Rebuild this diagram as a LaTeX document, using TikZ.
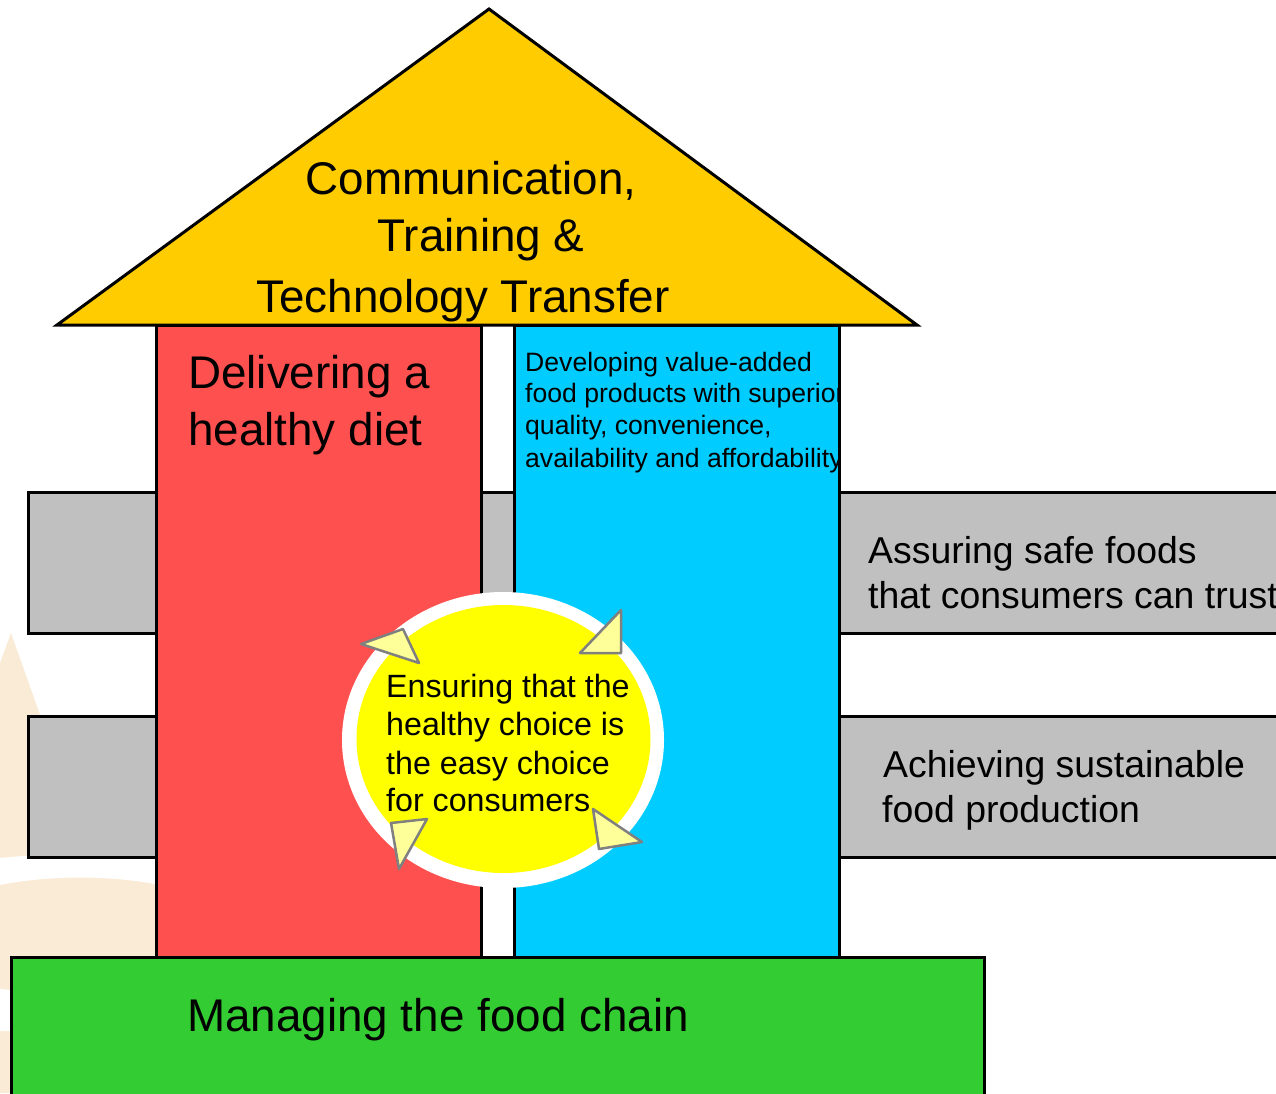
\documentclass[tikz,border=0pt]{standalone}
\usepackage{fontspec}
\setmainfont{Liberation Sans}
\definecolor{roofc}{HTML}{FFCC00}
\definecolor{redc}{HTML}{FF5050}
\definecolor{bluec}{HTML}{00CCFF}
\definecolor{grayc}{HTML}{C0C0C0}
\definecolor{greenc}{HTML}{33CC33}
\definecolor{yelc}{HTML}{FFFF00}
\definecolor{tric}{HTML}{FFFF99}
\definecolor{tribd}{HTML}{808080}
\definecolor{beige}{HTML}{FAEBD7}
\tikzset{
  block/.style={draw=black, line width=3pt},
  arrowtri/.style={fill=tric, draw=tribd, line width=2.5pt, line join=round},
  big/.style={inner sep=0pt, font=\fontsize{45.8}{57}\selectfont},
  mid/.style={inner sep=0pt, font=\fontsize{37.4}{45}\selectfont},
  circ/.style={inner sep=0pt, font=\fontsize{32.2}{38}\selectfont},
  small/.style={inner sep=0pt, font=\fontsize{26.6}{32}\selectfont},
}
\begin{document}
\begin{tikzpicture}[x=1pt,y=-1pt]
\useasboundingbox (0,0) rectangle (1276,1093);
\clip (0,0) rectangle (1276,1093);
\fill[white] (0,0) rectangle (1276,1093);
% background beige shapes
\fill[beige] (0,870) rectangle (160,1093);
\fill[beige] (0,663) -- (11,633) -- (95,870) -- (0,870) -- cycle;
\fill[white] (0,858) .. controls (50,853) and (110,851) .. (160,853) -- (160,885) .. controls (110,875) and (50,875) .. (0,885) -- cycle;
\fill[white] (0,989) .. controls (4,989) and (8,990) .. (12,990) -- (12,1031) .. controls (8,1031) and (4,1031) .. (0,1031) -- cycle;
% gray bars
\draw[block, fill=grayc] (1300,492) -- (28,492) -- (28,633) -- (1300,633);
\draw[block, fill=grayc] (1300,716) -- (28,716) -- (28,857) -- (1300,857);
% columns
\node[block, fill=redc, minimum width=325pt, minimum height=632pt, anchor=north west, inner sep=0pt, outer sep=0pt] (redcol) at (156,325) {};
\node[block, fill=bluec, minimum width=325pt, minimum height=632pt, anchor=north west, inner sep=0pt, outer sep=0pt] (bluecol) at (514,325) {};
% roof
\draw[block, fill=roofc, line join=miter] (489,9) -- (917,325) -- (57,325) -- cycle;
% base
\draw[block, fill=greenc] (11,1100) -- (11,957) -- (984,957) -- (984,1100);
% circle
\fill[white] (503,740) ellipse [x radius=161, y radius=148];
\fill[yelc] (503.5,739) ellipse [x radius=147, y radius=134];
% arrow triangles
\draw[arrowtri] (361,644) -- (403,629) -- (419,663) -- cycle;
\draw[arrowtri] (621,610) -- (621,653) -- (580,653) -- cycle;
\draw[arrowtri] (391,823) -- (427,819) -- (399,869) -- cycle;
\draw[arrowtri] (593,809) -- (642,842) -- (599,849) -- cycle;
% roof text
\node[big, anchor=base] (roof1) at (471,194.5) {Communication,};
\node[big, anchor=base] (roof2) at (481,251) {Training \&};
\node[big, anchor=base] (roof3) at (463,312) {Technology Transfer};
% red column text
\node[big, anchor=base west] (red1) at (188,388) {Delivering a};
\node[big, anchor=base west] (red2) at (188,445) {healthy diet};
% blue column text (clipped to column)
\begin{scope}
\clip (514,325) rectangle (840,957);
\node[small, anchor=base west] (blue1) at (525,371) {Developing value-added};
\node[small, anchor=base west] (blue2) at (525,402) {food products with superior};
\node[small, anchor=base west] (blue3) at (525,434) {quality, convenience,};
\node[small, anchor=base west] (blue4) at (525,467) {availability and affordability};
\end{scope}
% right bar texts
\node[mid, anchor=base west] (safe1) at (868,563) {Assuring safe foods};
\node[mid, anchor=base west] (safe2) at (868,608) {that consumers can trust};
\node[mid, anchor=base west] (sus1) at (883,777) {Achieving sustainable};
\node[mid, anchor=base west] (sus2) at (882,822) {food production};
% circle text
\node[circ, anchor=base west] (c1) at (386,697) {Ensuring that the};
\node[circ, anchor=base west] (c2) at (386,735) {healthy choice is};
\node[circ, anchor=base west] (c3) at (386,774) {the easy choice};
\node[circ, anchor=base west] (c4) at (386,811) {for consumers};
% base text
\node[big, anchor=base west] (base1) at (187,1031) {Managing the food chain};
\end{tikzpicture}
\end{document}
